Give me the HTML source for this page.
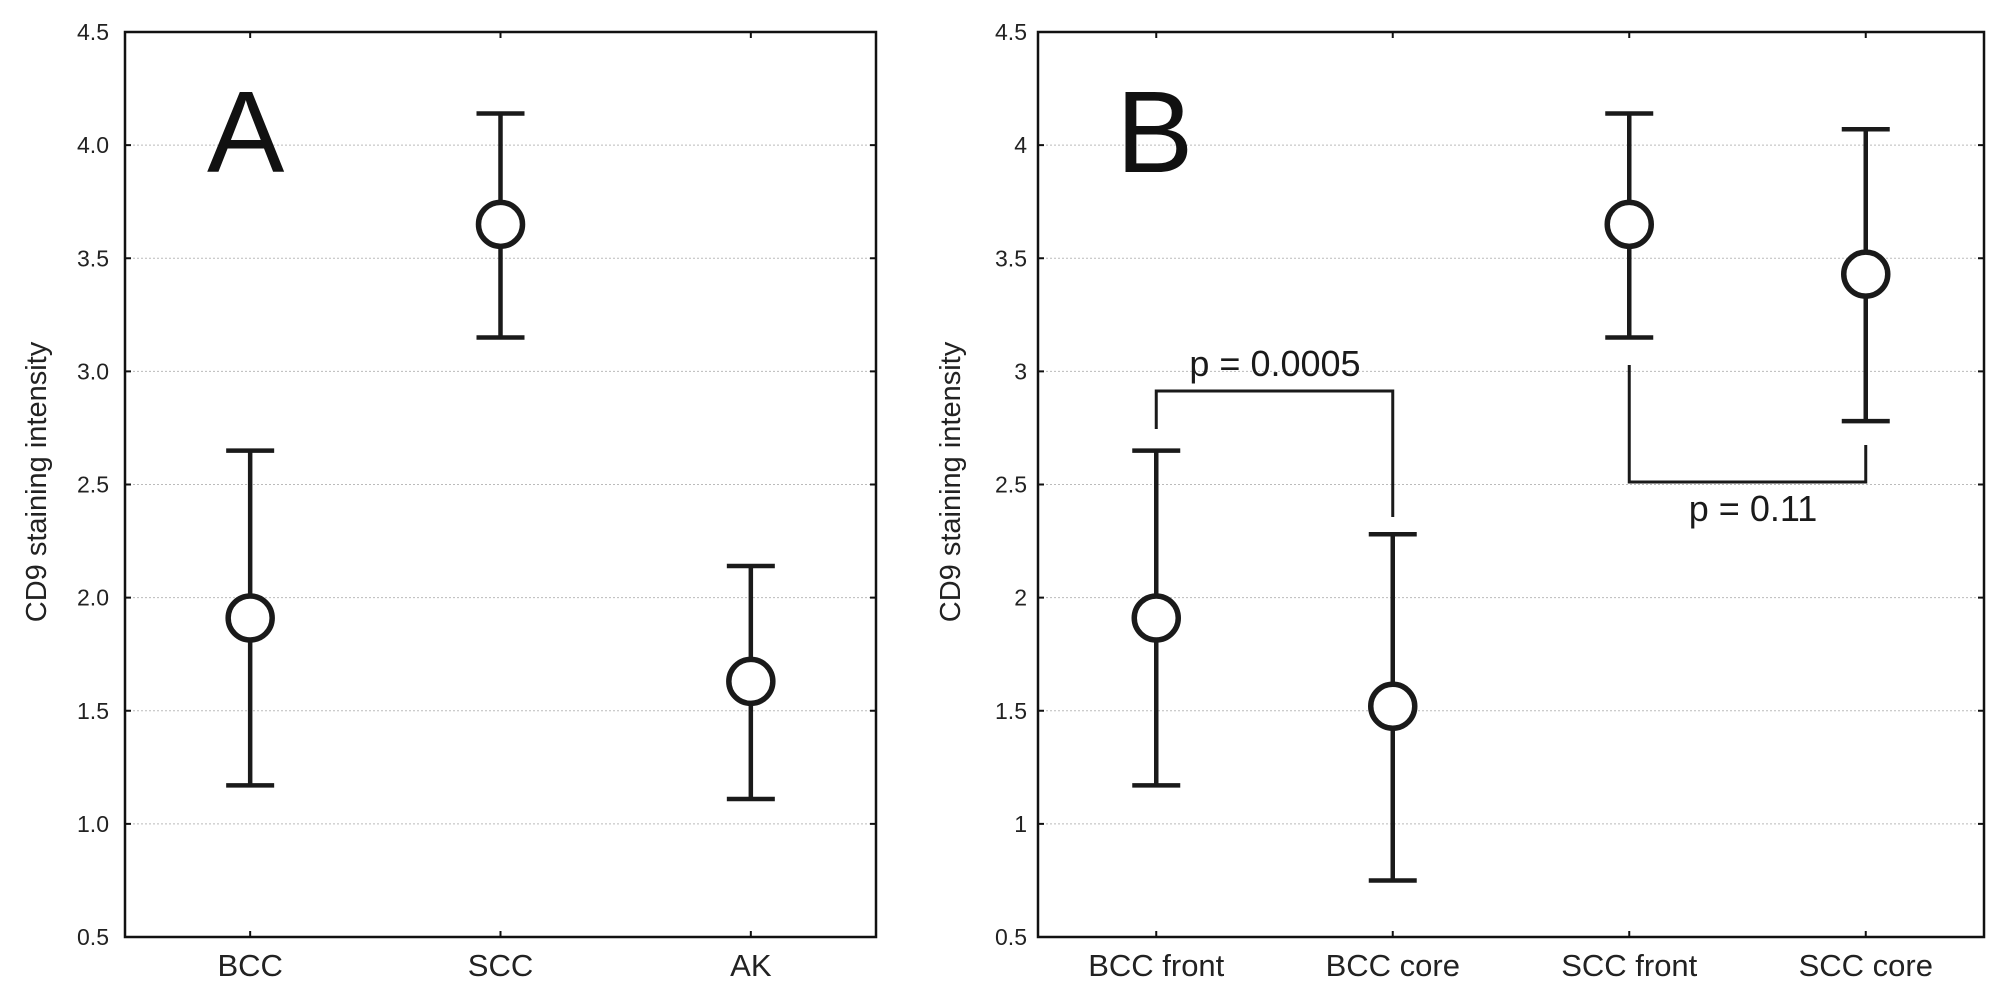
<!DOCTYPE html>
<html><head><meta charset="utf-8"><style>
html,body{margin:0;padding:0;background:#fff;}
svg{display:block;font-family:"Liberation Sans",Arial,sans-serif;}
</style></head><body>
<svg id="chart" width="2014" height="993" viewBox="0 0 2014 993" xmlns="http://www.w3.org/2000/svg"></svg>
<script>
const ticksA = ["0.5","1.0","1.5","2.0","2.5","3.0","3.5","4.0","4.5"];
const ticksB = ["0.5","1","1.5","2","2.5","3","3.5","4","4.5"];
const tickVals = [0.5,1,1.5,2,2.5,3,3.5,4,4.5];
const catsA = ["BCC","SCC","AK"];
const meanA = [1.91,3.65,1.63];
const lowA = [1.17,3.15,1.11];
const highA = [2.65,4.14,2.14];
const catsB = ["BCC front","BCC core","SCC front","SCC core"];
const meanB = [1.91,1.52,3.65,3.43];
const lowB = [1.17,0.75,3.15,2.78];
const highB = [2.65,2.28,4.14,4.07];

const svgEl = document.getElementById('chart');
const NS = 'http://www.w3.org/2000/svg';
function mk(tag, attrs, parent){const e=document.createElementNS(NS,tag);for(const k in attrs)e.setAttribute(k,attrs[k]);(parent||svgEl).appendChild(e);return e;}

const plotTop=32, plotBot=937, yMin=0.5, yMax=4.5;
function yScale(v){return plotBot-(v-yMin)/(yMax-yMin)*(plotBot-plotTop);}

function panel(name,left,right,ticks,cats,mean,low,high,letter,letterX,ylabX,tickX){
  const g=mk('g',{});
  
  
  const n=cats.length, w=right-left;
  const x=i=>left+(i+0.5)*w/n;
  tickVals.forEach((v,i)=>{
    if(i>0&&i<tickVals.length-1){
      const gl=mk('line',{x1:left,x2:right,y1:yScale(v),y2:yScale(v),stroke:'#bbb','stroke-width':1,'stroke-dasharray':'2,2'},g);
      
      
    }
    mk('line',{x1:left,x2:left+6,y1:yScale(v),y2:yScale(v),stroke:'#111','stroke-width':2},g);
    mk('line',{x1:right-6,x2:right,y1:yScale(v),y2:yScale(v),stroke:'#111','stroke-width':2},g);
    const t=mk('text',{x:tickX,y:yScale(v)+8,'text-anchor':'end','font-size':23,fill:'#222'},g);
    t.textContent=ticks[i];
    
    
  });
  const frame=mk('rect',{x:left,y:plotTop,width:w,height:plotBot-plotTop,fill:'none',stroke:'#111','stroke-width':2.5},g);
  
  
  const yl=mk('text',{x:0,y:0,'text-anchor':'middle','font-size':29,fill:'#222',transform:`translate(${ylabX},482) rotate(-90)`},g);
  yl.textContent='CD9 staining intensity';
  
  
  const L=mk('text',{x:letterX,y:172,'font-size':116,fill:'#111'},g);
  L.textContent=letter;
  
  
  cats.forEach((c,i)=>{
    const cx=x(i);
    mk('line',{x1:cx,x2:cx,y1:plotBot-6,y2:plotBot,stroke:'#111','stroke-width':2},g);
    mk('line',{x1:cx,x2:cx,y1:plotTop,y2:plotTop+6,stroke:'#111','stroke-width':2},g);
    const xl=mk('text',{x:cx,y:976,'text-anchor':'middle','font-size':31,fill:'#222'},g);
    xl.textContent=c;
    
    
    const eb=mk('path',{d:`M${cx},${yScale(low[i])}V${yScale(high[i])}M${cx-24},${yScale(high[i])}H${cx+24}M${cx-24},${yScale(low[i])}H${cx+24}`,stroke:'#1a1a1a','stroke-width':4.5,fill:'none'},g);
    
    
    const pt=mk('circle',{cx:cx,cy:yScale(mean[i]),r:22,fill:'#fff',stroke:'#1a1a1a','stroke-width':5.5},g);
    
    
  });
  return x;
}
panel('panel-a',125,876,ticksA,catsA,meanA,lowA,highA,'A',207,46,109);
const xb=panel('panel-b',1038,1984,ticksB,catsB,meanB,lowB,highB,'B',1116,960,1027);

const b1=mk('path',{d:`M${xb(0)},429V391H${xb(1)}V517`,stroke:'#1a1a1a','stroke-width':3,fill:'none'});


const t1=mk('text',{x:1275,y:376,'text-anchor':'middle','font-size':36,fill:'#1a1a1a'});
t1.textContent='p = 0.0005';


const b2=mk('path',{d:`M${xb(2)},365V482H${xb(3)}V445`,stroke:'#1a1a1a','stroke-width':3,fill:'none'});


const t2=mk('text',{x:1753,y:521,'text-anchor':'middle','font-size':36,fill:'#1a1a1a'});
t2.textContent='p = 0.11';


</script>
</body></html>
